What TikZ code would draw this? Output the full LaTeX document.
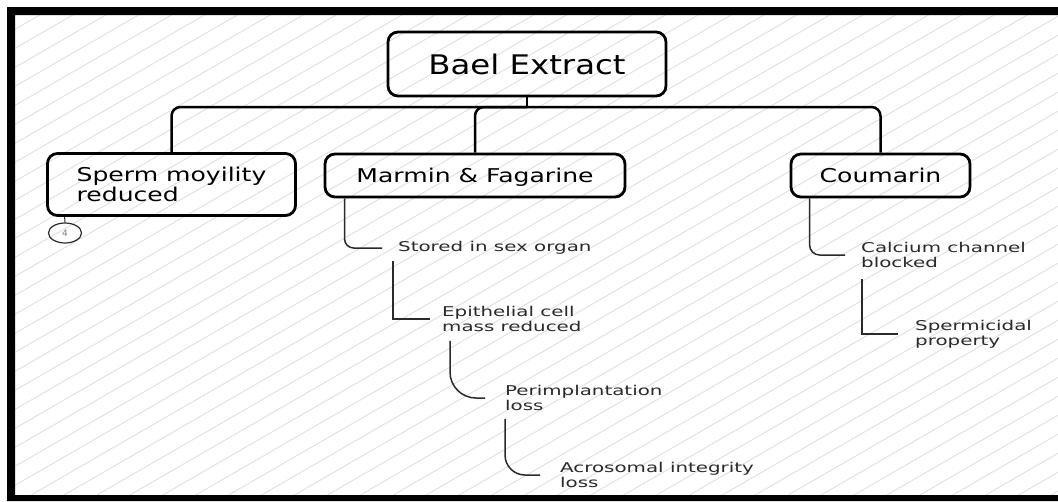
\documentclass[tikz,border=0pt]{standalone}
\usepackage{fontspec}
\usetikzlibrary{shapes.geometric}
\setmainfont{DejaVu Sans}
\newfontfamily\titlefont{DejaVu Sans}[FakeStretch=1.2]
\newfontfamily\boxfont{DejaVu Sans}[FakeStretch=1.32]
\newfontfamily\notefont{DejaVu Sans}[FakeStretch=1.47]
\definecolor{hatchgray}{HTML}{E0E0E0}
\definecolor{inkgray}{HTML}{2A2A2A}
\begin{document}
\begin{tikzpicture}[x=1pt,y=-1pt,
  box/.style={draw=black, line width=2.8pt, rounded corners=10pt, inner sep=0pt, align=left, text=black},
  boxtext/.style={font=\boxfont\fontsize{19}{17}\selectfont},
  note/.style={font=\notefont\fontsize{13.5}{15}\selectfont, text=inkgray, align=left, inner sep=0pt, anchor=west},
  trunk/.style={draw=black, line width=2.5pt, rounded corners=9pt},
  twig/.style={draw=inkgray, line width=1.5pt},
  hatch/.style={draw=hatchgray, line width=0.9pt}]
\useasboundingbox (0,0) rectangle (1058,501);

% hatched paper
\fill[white] (0,0) rectangle (1058,501);
\begin{scope}
  \clip (15,15) rectangle (1058,495);
  \foreach \i in {-35,...,80} {
    \draw[hatch] (0,{\i*19}) -- ++(1100,-635);
  }
\end{scope}
% black frame, open to the right
\fill[black, even odd rule] (7,7) rectangle (1060,501) (15,15) rectangle (1060,495);

% main boxes
\node[box, minimum width=278pt, minimum height=64pt, text depth=0pt, font=\titlefont\fontsize{27}{30}\selectfont] (bael) at (527,64) {Bael Extract};
\node[box, boxtext, minimum width=248pt, minimum height=62pt] (sperm) at (171.5,184.5) {Sperm moyility\\reduced};
\node[box, boxtext, minimum width=300pt, minimum height=43pt, text depth=0pt] (marmin) at (475,175.5) {Marmin \& Fagarine};
\node[box, boxtext, minimum width=179pt, minimum height=43pt, text depth=0pt] (coumarin) at (880.5,175.5) {Coumarin};

% branches from the extract
\coordinate (hub) at (527,107);
\draw[trunk] (bael.south) -- (hub);
\draw[trunk] (hub) -| (sperm.north);
\draw[trunk] (hub) -| (marmin.north);
\draw[trunk] (hub) -| (coumarin.north);

% reference marker
\node[draw=inkgray, line width=1.2pt, ellipse, minimum width=33pt, minimum height=20pt, inner sep=0pt,
      font=\fontsize{9}{9}\selectfont\rmfamily, text=gray] (four) at (65,233) {4};
\draw[draw=inkgray, line width=1pt] ([xshift=18.5pt]sperm.south west) -- (four.north);

% notes
\node[note] (stored) at (398,248) {Stored in sex organ};
\node[note] (epith) at (442,319) {Epithelial cell\\mass reduced};
\node[note] (perim) at (505,398) {Perimplantation\\loss};
\node[note] (acro) at (560,475) {Acrosomal integrity\\loss};
\node[note] (calcium) at (861,255) {Calcium channel\\blocked};
\node[note] (spermi) at (915,334) {Spermicidal\\property};

% note connectors
\draw[twig, rounded corners=9pt] ([xshift=21pt]marmin.south west) |- ([xshift=-16pt]stored.west);
\draw[twig] ([xshift=-5pt,yshift=-6pt]stored.south west) |- ([xshift=-12pt]epith.west);
\draw[twig, rounded corners=26pt] ([xshift=8pt,yshift=-9pt]epith.south west) |- ([xshift=-20pt]perim.west);
\draw[twig, rounded corners=20pt] ([yshift=-8pt]perim.south west) |- ([xshift=-20pt]acro.west);
\draw[twig, rounded corners=10pt] ([xshift=20pt]coumarin.south west) |- ([xshift=-16pt]calcium.west);
\draw[twig] ([xshift=1pt,yshift=-11pt]calcium.south west) |- ([xshift=-17pt]spermi.west);
\end{tikzpicture}
\end{document}
